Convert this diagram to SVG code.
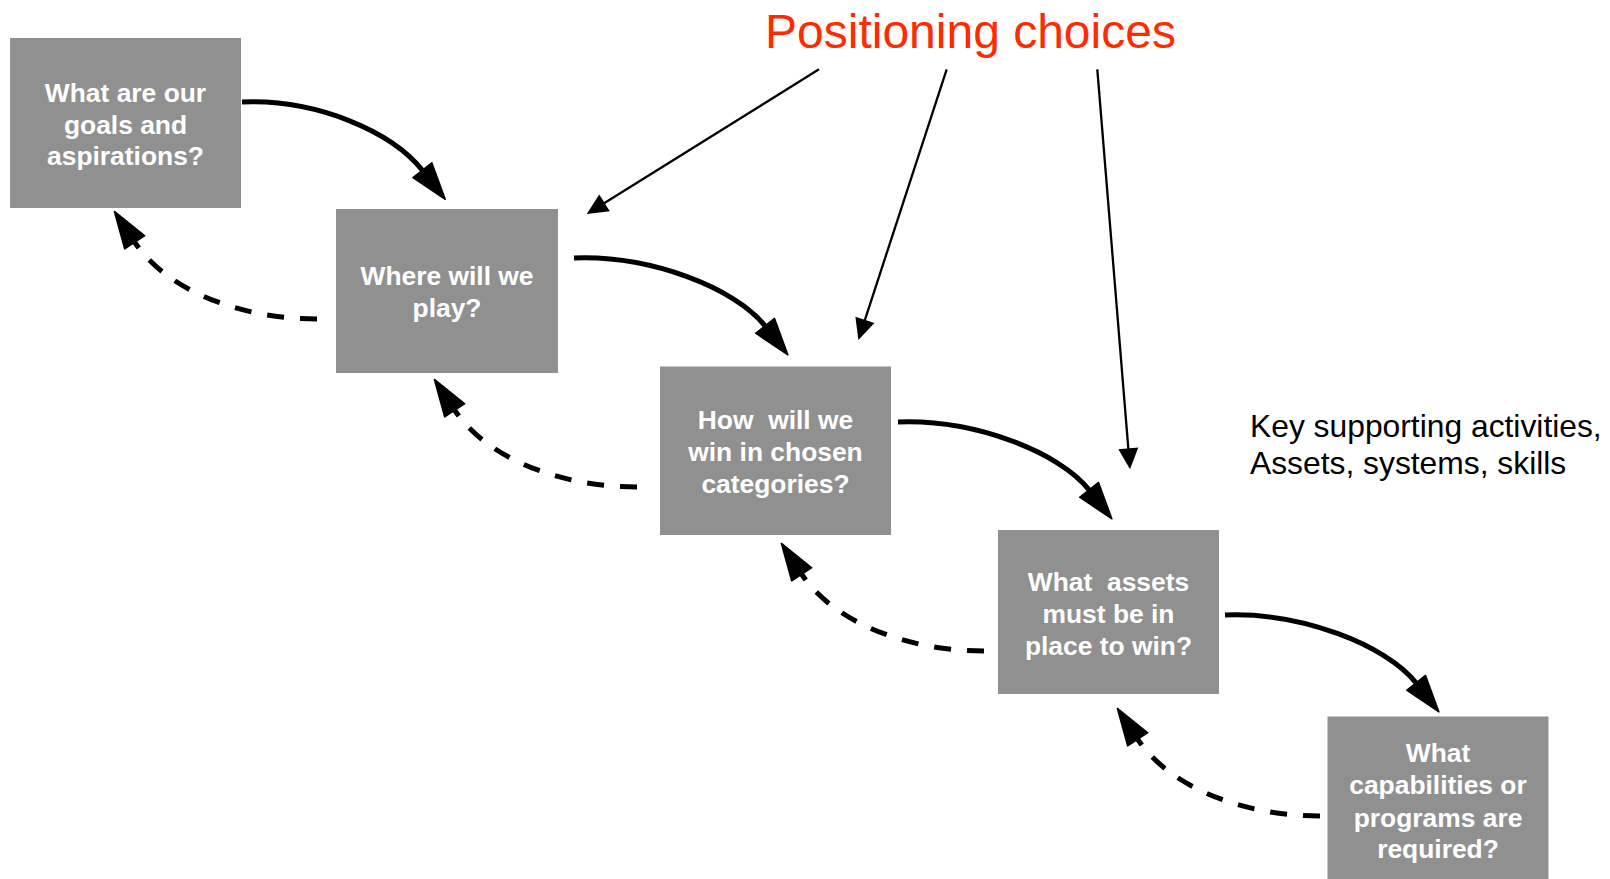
<svg xmlns="http://www.w3.org/2000/svg" width="1610" height="879" viewBox="0 0 1610 879">
<style>
.box{fill:#909090;}
.lbl{font-family:"Liberation Sans",Arial,sans-serif;font-weight:bold;font-size:26.4px;fill:#ffffff;text-anchor:middle;white-space:pre;}
.title{font-family:"Liberation Sans",Arial,sans-serif;font-size:48px;fill:#ff2a00;}
.note{font-family:"Liberation Sans",Arial,sans-serif;font-size:31.8px;fill:#000000;}
.fwd{fill:none;stroke:#000;stroke-width:5;marker-end:url(#bighead);}
.back{fill:none;stroke:#000;stroke-width:5;stroke-dasharray:17 16;marker-end:url(#bighead);}
.thin{fill:none;stroke:#000;stroke-width:2.3;marker-end:url(#smallhead);}
</style>
<defs>
<marker id="bighead" markerUnits="userSpaceOnUse" orient="auto" refX="0" refY="0" markerWidth="40" markerHeight="30" overflow="visible">
<path d="M-1,-12 L36,0 L-1,12 z" fill="#000" stroke="#000" stroke-width="1.5" stroke-linejoin="round"/>
</marker>
<marker id="smallhead" markerUnits="userSpaceOnUse" orient="auto" refX="0" refY="0" markerWidth="22" markerHeight="22" overflow="visible">
<path d="M-1,-10 L20,0 L-1,10 z" fill="#000"/>
</marker>
</defs>

<g id="connectors">
<path class="fwd" d="M242,102 c75,-3 150,29.5 181,69"/>
<path class="fwd" d="M574,258 c75,-3 160.7,29.1 191.7,68.6"/>
<path class="fwd" d="M898,422 c75,-3 160.7,29.1 191.7,68.6"/>
<path class="fwd" d="M1225,615 c75,-3 160.7,29.1 191.7,68.6"/>
<path class="back" d="M317,319 c-75,0 -150,-27.7 -182.8,-77.5"/>
<path class="back" d="M637,487 c-75,0 -150,-27.7 -182.8,-77.5"/>
<path class="back" d="M984,651 c-75,0 -150,-27.7 -182.8,-77.5"/>
<path class="back" d="M1320,816 c-75,0 -150,-27.7 -182.8,-77.5"/>
<line class="thin" x1="819" y1="69.3" x2="603.7" y2="203.4"/>
<line class="thin" x1="946.7" y1="69.3" x2="864.6" y2="320.9"/>
<line class="thin" x1="1097.3" y1="69.3" x2="1128.4" y2="449.4"/>
</g>

<g id="title"><text class="title" x="765" y="48">Positioning choices</text></g>
<g id="note">
<text class="note" x="1250" y="437">Key supporting activities,</text>
<text class="note" x="1250" y="474">Assets, systems, skills</text>
</g>

<g id="node1">
<rect class="box" x="10" y="38" width="231" height="170"/>
<text class="lbl" x="125.5" y="101.5">What are our</text>
<text class="lbl" x="125.5" y="133.5">goals and</text>
<text class="lbl" x="125.5" y="165.3">aspirations?</text>
</g>
<g id="node2">
<rect class="box" x="336" y="209" width="222" height="164"/>
<text class="lbl" x="447" y="285.4">Where will we</text>
<text class="lbl" x="447" y="317.3">play?</text>
</g>
<g id="node3">
<rect class="box" x="660" y="366.5" width="231" height="168.5"/>
<text class="lbl" x="775.5" y="429.2">How  will we</text>
<text class="lbl" x="775.5" y="461">win in chosen</text>
<text class="lbl" x="775.5" y="492.9">categories?</text>
</g>
<g id="node4">
<rect class="box" x="998" y="530" width="221" height="164"/>
<text class="lbl" x="1108.5" y="591.4">What  assets</text>
<text class="lbl" x="1108.5" y="623.3">must be in</text>
<text class="lbl" x="1108.5" y="655.1">place to win?</text>
</g>
<g id="node5">
<rect class="box" x="1327.5" y="716.5" width="221" height="163"/>
<text class="lbl" x="1438" y="761.9">What</text>
<text class="lbl" x="1438" y="793.7">capabilities or</text>
<text class="lbl" x="1438" y="826.6">programs are</text>
<text class="lbl" x="1438" y="858.4">required?</text>
</g>
</svg>
